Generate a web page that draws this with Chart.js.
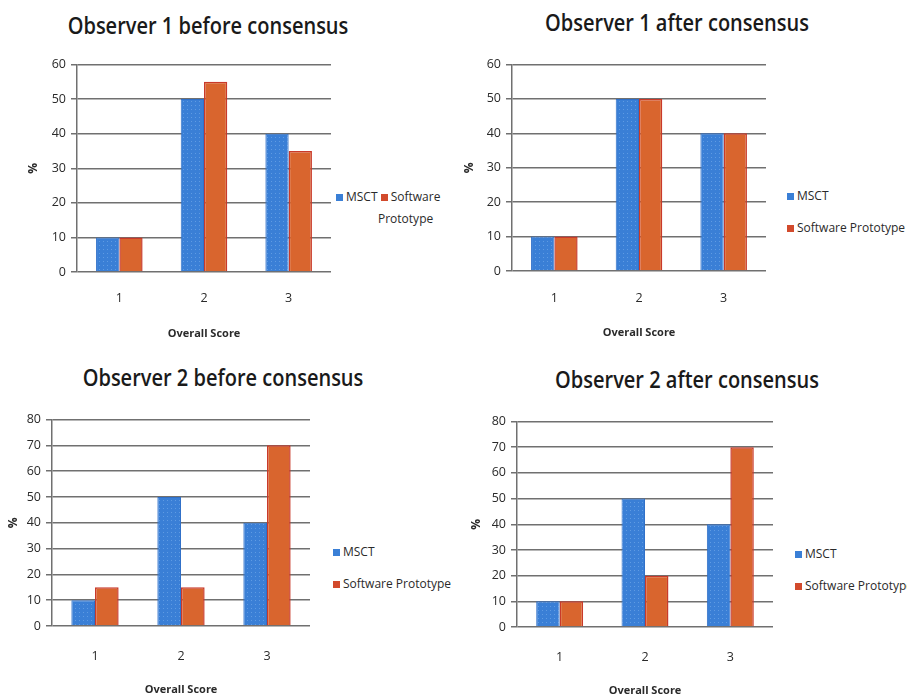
<!DOCTYPE html>
<html>
<head>
<meta charset="utf-8">
<script src="https://cdn.jsdelivr.net/npm/chart.js@4/dist/chart.umd.min.js"></script>
<style>
  body { margin:0; background:#fff; width:907px; height:698px; overflow:hidden; position:relative; font-family:'Open Sans', sans-serif; color:#222; }
  .box { position:absolute; }
  .title { position:absolute; font-size:23px; font-weight:600; transform:translate(-50%,-50%) scaleX(0.87); white-space:nowrap; line-height:1; color:#1a1a1a; }
  .leg { position:absolute; font-size:12px; line-height:16px; white-space:nowrap; color:#2a2a2a; }
  .sw { display:inline-block; width:7px; height:7px; margin-right:3px; vertical-align:0px; }
</style>
</head>
<body>
<script>
// Datos
const scores = ['1', '2', '3'];
const seriesNames = ['MSCT', 'Software Prototype'];
const obs1BeforeMsct = [10, 50, 40];
const obs1BeforeSoft = [10, 55, 35];
const obs1AfterMsct = [10, 50, 40];
const obs1AfterSoft = [10, 50, 40];
const obs2BeforeMsct = [10, 50, 40];
const obs2BeforeSoft = [15, 15, 70];
const obs2AfterMsct = [10, 50, 40];
const obs2AfterSoft = [10, 20, 70];
const titles = ['Observer 1 before consensus', 'Observer 1 after consensus', 'Observer 2 before consensus', 'Observer 2 after consensus'];
const yMaxes = [60, 60, 80, 80];

const BLUE = '#3a7fd6';
const ORANGE = '#d9652e';

// Textura punteada de las barras azules
function dotPattern() {
  const c = document.createElement('canvas');
  c.width = 4; c.height = 4;
  const g = c.getContext('2d');
  g.fillStyle = BLUE; g.fillRect(0, 0, 4, 4);
  g.fillStyle = '#5f9be3'; g.fillRect(1, 1, 1, 1);
  return g.createPattern(c, 'repeat');
}

// Posiciones (área de trazado) de cada panel
const panels = [
  { l: 77,  t: 62,  r: 331, b: 272, yW: 51, tickPad: 19, titleX: 208, titleY: 25, leg: { x: 336, y: 186, wrap: true } },
  { l: 512, t: 62,  r: 766, b: 271, yW: 50, tickPad: 20, titleX: 677, titleY: 22, leg: { x: 787, y: 180 } },
  { l: 52,  t: 417, r: 310, b: 626, yW: 46, tickPad: 23, titleX: 223, titleY: 377, leg: { x: 333, y: 536 } },
  { l: 517, t: 419, r: 773, b: 627, yW: 48, tickPad: 23, titleX: 687, titleY: 379, leg: { x: 795, y: 538 } }
];
const datasets = [
  [obs1BeforeMsct, obs1BeforeSoft],
  [obs1AfterMsct, obs1AfterSoft],
  [obs2BeforeMsct, obs2BeforeSoft],
  [obs2AfterMsct, obs2AfterSoft]
];

function makePanel(i) {
  const p = panels[i];
  const padTop = 10, padRight = 4;
  const xH = (i < 2 ? 61 : 63) + 7;
  const div = document.createElement('div');
  div.className = 'box';
  div.style.left = (p.l - p.yW) + 'px';
  div.style.top = (p.t - padTop) + 'px';
  div.style.width = (p.yW + p.r - p.l + padRight) + 'px';
  div.style.height = (padTop + p.b - p.t + xH) + 'px';
  const cv = document.createElement('canvas');
  div.appendChild(cv);
  document.body.appendChild(div);

  const t = document.createElement('div');
  t.className = 'title';
  t.style.left = p.titleX + 'px';
  t.style.top = p.titleY + 'px';
  t.textContent = titles[i];
  document.body.appendChild(t);

  const lg = document.createElement('div');
  lg.className = 'leg';
  lg.style.left = p.leg.x + 'px';
  lg.style.top = p.leg.y + 'px';
  const sq = c => `<span class="sw" style="background:${c}"></span>`;
  if (p.leg.wrap) {
    lg.style.lineHeight = '22px';
    lg.innerHTML = `${sq(BLUE)}${seriesNames[0]} ${sq('#d24a2c')}Software<br><span style="padding-left:42px">Prototype</span>`;
  } else {
    lg.style.lineHeight = '32px';
    lg.innerHTML = `${sq(BLUE)}${seriesNames[0]}<br>${sq('#d24a2c')}${seriesNames[1]}`;
  }
  document.body.appendChild(lg);

  const tickFont = { family: 'Open Sans', size: 12.5 };
  new Chart(cv, {
    type: 'bar',
    data: {
      labels: scores,
      datasets: [
        { label: seriesNames[0], data: datasets[i][0], backgroundColor: dotPattern(), borderColor: '#3070c8', borderWidth: 1 },
        { label: seriesNames[1], data: datasets[i][1], backgroundColor: ORANGE, borderColor: '#c93a2a', borderWidth: 1.5 }
      ]
    },
    options: {
      responsive: true,
      maintainAspectRatio: false,
      animation: false,
      layout: { padding: { top: padTop, right: padRight } },
      plugins: { legend: { display: false }, tooltip: { enabled: false } },
      datasets: { bar: { categoryPercentage: 0.55, barPercentage: 1.0 } },
      scales: {
        x: {
          grid: { display: false, drawTicks: false },
          border: { display: false },
          ticks: { padding: p.tickPad, color: '#2a2a2a', font: tickFont },
          title: { display: true, text: 'Overall Score', padding: 0, color: '#2a2a2a', font: { family: 'Open Sans', size: 11, weight: 'bold' } },
          afterFit: s => { s.height = xH; }
        },
        y: {
          min: 0, max: yMaxes[i],
          ticks: { stepSize: 10, padding: 5, color: '#2a2a2a', font: tickFont },
          grid: { color: '#707070', lineWidth: 1.5, tickLength: 6 },
          border: { display: true, color: '#707070', width: 1.5 },
          title: { display: true, text: '%', padding: 0, color: '#2a2a2a', font: { family: 'Open Sans', size: 12, weight: 'bold' } },
          afterFit: s => { s.width = p.yW; }
        }
      }
    }
  });
}

for (let i = 0; i < 4; i++) makePanel(i);
</script>
</body>
</html>
